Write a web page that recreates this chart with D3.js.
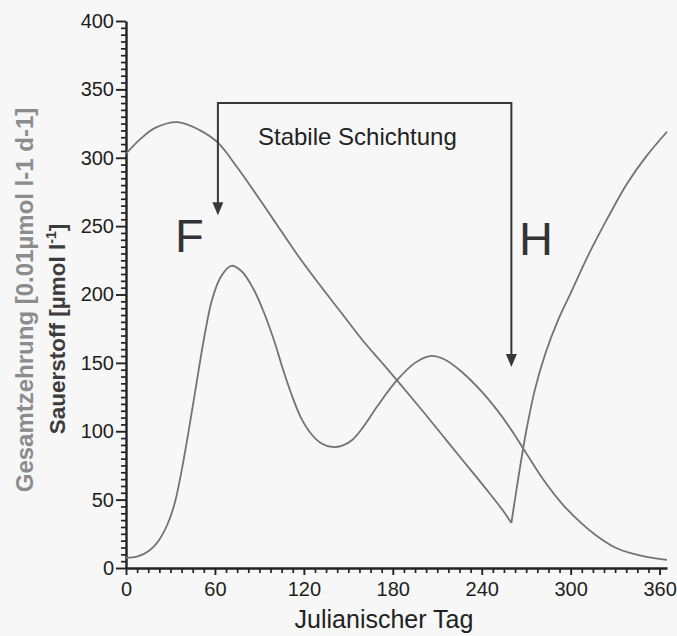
<!DOCTYPE html>
<html>
<head>
<meta charset="utf-8">
<script src="https://cdn.jsdelivr.net/npm/d3@7"></script>
<style>
  html, body { margin: 0; padding: 0; background: #f7f7f7; }
  svg { display: block; }
  text { font-family: "Liberation Sans", Arial, sans-serif; }
</style>
</head>
<body>
<svg id="chart" width="677" height="636"></svg>
<script>
// Sauerstoff (oxygen), falling phase up to the turnover minimum
const oxyFallDays   = [0, 10, 20, 35, 50, 62, 75, 88, 100, 115, 130, 145, 160, 172, 183, 200, 215, 230, 245, 255, 260];
const oxyFallValues = [303, 314, 322, 326, 320, 311, 293, 273, 254, 230, 208, 187, 166, 151, 137, 115, 95, 75, 55, 41, 33];
// Sauerstoff, recovery after turnover
const oxyRiseDays   = [260, 265, 270, 276, 283, 291, 300, 312, 325, 338, 351, 365];
const oxyRiseValues = [33, 68, 100, 131, 157, 180, 201, 229, 256, 281, 301, 319];
// Gesamtzehrung (total oxygen consumption)
const demandDays   = [0, 8, 16, 22, 28, 33, 38, 43, 48, 53, 58, 64, 71, 78, 86, 93, 100, 106, 112, 118, 125, 132, 139, 146, 153, 160, 170, 183, 195, 205, 215, 227, 240, 250, 260, 270, 282, 295, 307, 317, 330, 340, 352, 365];
const demandValues = [7.5, 8.5, 13, 20, 32, 48, 74, 105, 138, 170, 196, 213, 221, 217, 204, 187, 166, 145, 126, 110, 98, 91, 88.5, 89.5, 94, 103, 119, 137.5, 150, 155, 152.5, 143, 129, 116, 101, 84, 64, 46, 33, 24, 15, 11, 8, 6];

// Axis ticks
const xTickLabels = [0, 60, 120, 180, 240, 300, 360];
const yTickLabels = [0, 50, 100, 150, 200, 250, 300, 350, 400];

// Stratification bracket: start day (F), end day (H), bracket level and arrow tips
const stratStart = 62, stratEnd = 260, stratLevel = 340;
const arrowTipF = 258, arrowTipH = 147;

const svg = d3.select("#chart");
const x = d3.scaleLinear().domain([0, 365]).range([126, 667]);
const y = d3.scaleLinear().domain([0, 400]).range([568, 21]);

const axisColor = "#222";
const curveColor = "#737373";

// minor ticks
const xMinor = d3.range(0, 365, 7.5).filter(d => d % 60 !== 0);
const yMinor = d3.range(0, 400, 5).filter(d => d % 50 !== 0);

const gx = svg.append("g").attr("transform", `translate(0,${y(0)})`);
gx.call(d3.axisBottom(x).tickValues(xMinor).tickSize(5).tickFormat("").tickSizeOuter(0));
gx.selectAll(".tick line").attr("stroke", axisColor).attr("stroke-width", 1.7);
gx.select(".domain").remove();
const gxMaj = svg.append("g").attr("transform", `translate(0,${y(0)})`);
gxMaj.call(d3.axisBottom(x).tickValues(xTickLabels).tickSize(7).tickPadding(4).tickSizeOuter(0));
gxMaj.selectAll(".domain").attr("stroke", axisColor).attr("stroke-width", 2.4);
gxMaj.selectAll(".tick line").attr("stroke", axisColor).attr("stroke-width", 1.9);
gxMaj.selectAll(".tick text").attr("fill", "#1e1e1e").attr("font-size", 20).attr("dy", "0.85em");

const gy = svg.append("g").attr("transform", `translate(${x(0)},0)`);
gy.call(d3.axisLeft(y).tickValues(yMinor).tickSize(5).tickFormat("").tickSizeOuter(0));
gy.selectAll(".tick line").attr("stroke", axisColor).attr("stroke-width", 1.7);
gy.select(".domain").remove();
const gyMaj = svg.append("g").attr("transform", `translate(${x(0)},0)`);
gyMaj.call(d3.axisLeft(y).tickValues(yTickLabels).tickSize(10).tickPadding(2).tickSizeOuter(0));
gyMaj.selectAll(".domain").attr("stroke", axisColor).attr("stroke-width", 2.4);
gyMaj.selectAll(".tick line").attr("stroke", axisColor).attr("stroke-width", 1.9);
gyMaj.selectAll(".tick text").attr("fill", "#1e1e1e").attr("font-size", 20);

// curves
const line = d3.line().x(d => x(d[0])).y(d => y(d[1])).curve(d3.curveCatmullRom.alpha(0.5));
const series = [
  d3.zip(oxyFallDays, oxyFallValues),
  d3.zip(oxyRiseDays, oxyRiseValues),
  d3.zip(demandDays, demandValues)
];
svg.append("g").selectAll("path").data(series).join("path")
  .attr("d", line)
  .attr("fill", "none")
  .attr("stroke", curveColor)
  .attr("stroke-width", 1.8);

// stratification bracket with arrows
const bracketColor = "#383838";
svg.append("path")
  .attr("d", `M${x(stratStart)},${y(arrowTipF) - 10}V${y(stratLevel)}H${x(stratEnd)}V${y(arrowTipH) - 10}`)
  .attr("fill", "none").attr("stroke", bracketColor).attr("stroke-width", 2);
function arrowHead(day, tipValue) {
  const cx = x(day), ty = y(tipValue);
  svg.append("path")
    .attr("d", `M${cx - 5.5},${ty - 13}L${cx + 5.5},${ty - 13}L${cx},${ty}Z`)
    .attr("fill", bracketColor);
}
arrowHead(stratStart, arrowTipF);
arrowHead(stratEnd, arrowTipH);

svg.append("text").attr("x", 258).attr("y", 145)
  .attr("font-size", 24).attr("fill", "#222").text("Stabile Schichtung");
svg.append("text").attr("x", 175).attr("y", 252)
  .attr("font-size", 47).attr("fill", "#333").text("F");
svg.append("text").attr("x", 519).attr("y", 255)
  .attr("font-size", 47).attr("fill", "#333").text("H");

// axis titles
svg.append("text").attr("x", 384).attr("y", 628).attr("text-anchor", "middle")
  .attr("font-size", 25).attr("fill", "#222").text("Julianischer Tag");
svg.append("text").attr("transform", "translate(33,300) rotate(-90)").attr("text-anchor", "middle")
  .attr("font-size", 24).attr("font-weight", "bold").attr("fill", "#8c8c8c")
  .text("Gesamtzehrung [0.01µmol l-1 d-1]");
const t2 = svg.append("text").attr("transform", "translate(65,329) rotate(-90)").attr("text-anchor", "middle")
  .attr("font-size", 22.5).attr("font-weight", "bold").attr("fill", "#3c3c3c");
t2.append("tspan").text("Sauerstoff [µmol l");
t2.append("tspan").attr("font-size", 14).attr("dy", -9).text("-1");
t2.append("tspan").attr("dy", 9).text("]");
</script>
</body>
</html>
